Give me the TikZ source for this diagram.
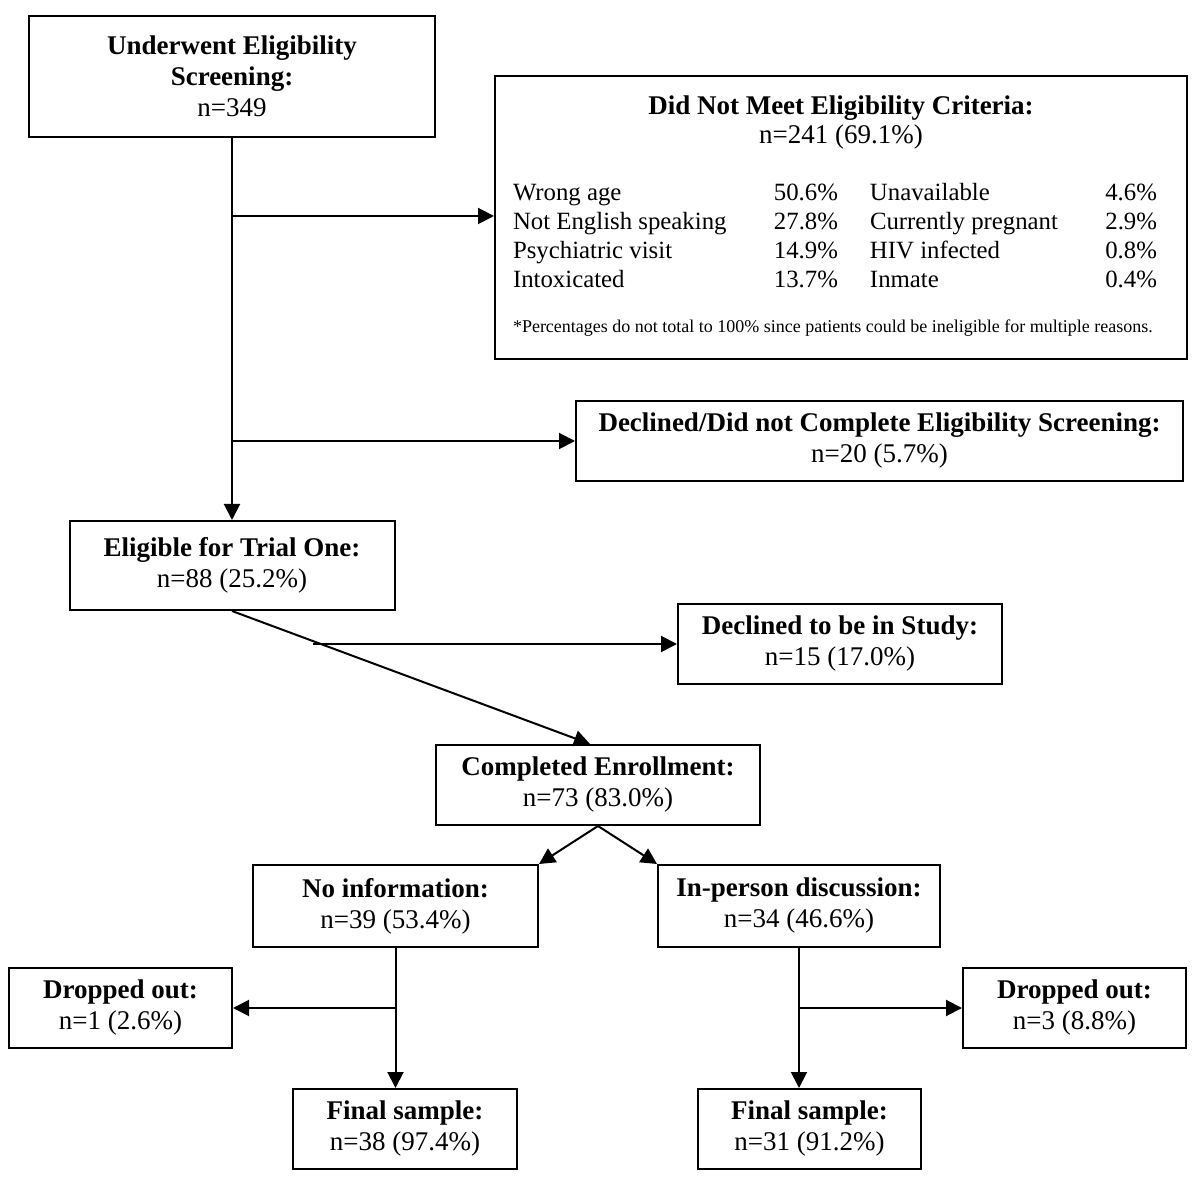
\documentclass[tikz,border=0pt]{standalone}
\usepackage{fontspec}
\setmainfont{Liberation Serif}
\usepackage{array}
\usepackage{tikz}
\usetikzlibrary{arrows.meta, calc, positioning}

\tikzset{
  box/.style={draw, line width=1pt, align=center, inner sep=2pt,
    font={\fontsize{13.5}{15.5}\selectfont}},
  arr/.style={line width=1pt, -{Triangle[length=8pt,width=8pt]}}
}

\begin{document}
\begin{tikzpicture}[x=0.5pt,y=-0.5pt]
		\useasboundingbox (0,0) rectangle (1200,1186);

		% boxes
		\node [box, minimum width=203pt, minimum height=60.5pt] (screen) at (232,76.5)
			{\textbf{Underwent Eligibility}\\\textbf{Screening:}\\n=349};
		\node [box, minimum width=346pt, minimum height=141.5pt] (crit) at (841,217.5)
			{\fontsize{12.4}{14.4}\selectfont
			\begin{tabular}{@{}p{130pt}@{}>{\raggedleft\arraybackslash}p{32.5pt}@{\hspace{16pt}}p{110pt}@{}>{\raggedleft\arraybackslash}p{33.5pt}@{\hspace{6pt}}}
			\multicolumn{4}{@{}c@{}}{\fontsize{13.5}{15.5}\selectfont\textbf{Did Not Meet Eligibility Criteria:}}\\
			\multicolumn{4}{@{}c@{}}{\fontsize{13.5}{15.5}\selectfont n=241 (69.1\%)}\\[14.4pt]
			Wrong age & 50.6\% & Unavailable & 4.6\%\\
			Not English speaking & 27.8\% & Currently pregnant & 2.9\%\\
			Psychiatric visit & 14.9\% & HIV infected & 0.8\%\\
			Intoxicated & 13.7\% & Inmate & 0.4\%\\[8pt]
			\multicolumn{4}{@{}l@{}}{\fontsize{9}{10}\selectfont *Percentages do not total to 100\% since patients could be ineligible for multiple reasons.}
			\end{tabular}};
		\node [box, minimum width=303.5pt, minimum height=40pt] (declscreen) at (879.5,441)
			{\textbf{Declined/Did not Complete Eligibility Screening:}\\n=20 (5.7\%)};
		\node [box, minimum width=162.5pt, minimum height=44.5pt] (elig) at (232,565.5)
			{\textbf{Eligible for Trial One:}\\n=88 (25.2\%)};
		\node [box, minimum width=162pt, minimum height=40pt] (declstudy) at (840,644)
			{\textbf{Declined to be in Study:}\\n=15 (17.0\%)};
		\node [box, minimum width=162pt, minimum height=40pt] (enrol) at (598,785)
			{\textbf{Completed Enrollment:}\\n=73 (83.0\%)};
		\node [box, minimum width=142.5pt, minimum height=41pt] (noinfo) at (395.5,906)
			{\textbf{No information:}\\n=39 (53.4\%)};
		\node [box, minimum width=141pt, minimum height=41pt] (inperson) at (799,906)
			{\textbf{In-person discussion:}\\n=34 (46.6\%)};
		\node [box, minimum width=111.5pt, minimum height=40pt] (dropleft) at (120.5,1008)
			{\textbf{Dropped out:}\\n=1 (2.6\%)};
		\node [box, minimum width=111.5pt, minimum height=40pt] (dropright) at (1074.5,1008)
			{\textbf{Dropped out:}\\n=3 (8.8\%)};
		\node [box, minimum width=112pt, minimum height=40pt] (finalleft) at (405,1129)
			{\textbf{Final sample:}\\n=38 (97.4\%)};
		\node [box, minimum width=111.5pt, minimum height=40pt] (finalright) at (809.5,1129)
			{\textbf{Final sample:}\\n=31 (91.2\%)};

		% branch points
		\coordinate (split1) at (232,216);
		\coordinate (split2) at (232,441);
		\coordinate (split3) at (313,644);
		\coordinate (split4) at (noinfo.south |- dropleft);
		\coordinate (split5) at (inperson.south |- dropright);

		% connectors
		\draw [arr] (screen.south) -- (elig.north);
		\draw [arr] (split1) -- (split1 -| crit.west);
		\draw [arr] (split2) -- (split2 -| declscreen.west);
		\draw [arr] (elig.south) -- ([xshift=-4pt]enrol.north);
		\draw [arr] (split3) -- (split3 -| declstudy.west);
		\draw [arr] (enrol.south) -- (noinfo.north east);
		\draw [arr] (enrol.south) -- (inperson.north west);
		\draw [arr] (noinfo.south) -- (noinfo.south |- finalleft.north);
		\draw [arr] (split4) -- (split4 -| dropleft.east);
		\draw [arr] (inperson.south) -- (inperson.south |- finalright.north);
		\draw [arr] (split5) -- (split5 -| dropright.west);

\end{tikzpicture}
\end{document}
